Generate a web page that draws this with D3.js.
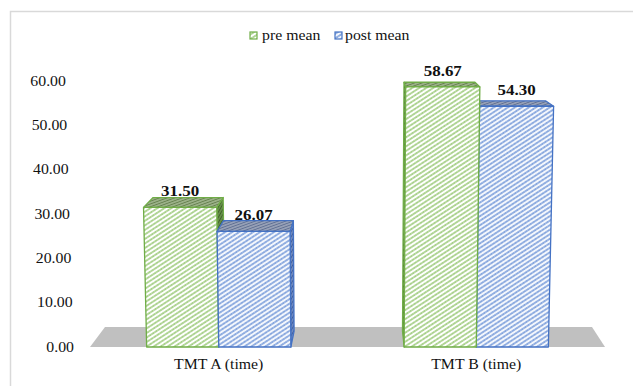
<!DOCTYPE html>
<html>
<head>
<meta charset="utf-8">
<script src="https://cdn.jsdelivr.net/npm/d3@7/dist/d3.min.js"></script>
<style>
  html, body { margin: 0; padding: 0; background: #fff; }
  svg { display: block; }
  text { font-family: "Liberation Serif", "Times New Roman", serif; fill: #111; }
</style>
</head>
<body>
<svg id="chart" width="633" height="386"></svg>
<script>
// ---- data ----
const categories = ["TMT A (time)", "TMT B (time)"];
const seriesNames = ["pre mean", "post mean"];
const preMean = [31.50, 58.67];
const postMean = [26.07, 54.30];
const yTicks = [0, 10, 20, 30, 40, 50, 60];

const seriesValues = [preMean, postMean];

// ---- geometry of the 3-D view ----
const W = 633, H = 386;
const base = 347;              // front edge of the floor
const vp = { x: 366, y: -21 }; // depth vanishing point
const keyC = 350, keyK = 0.00011; // slight vertical convergence
const floorDepth = 0.0544, barDepth = 0.043;
const textStretch = 1.13;

const svg = d3.select("#chart");

const x0 = d3.scaleBand().domain(categories).range([90, 605])
  .paddingInner(0.44).paddingOuter(0.22);
const x1 = d3.scaleBand().domain(seriesNames).range([0, x0.bandwidth()]);
const y = d3.scaleLinear().domain([0, 60]).range([base, 81]);

function proj(X, Y, z) {
  const h = base - Y;
  const xk = keyC + (X - keyC) * (1 + keyK * h);
  return [xk + (vp.x - xk) * z, Y + (vp.y - Y) * z];
}
const poly = pts => "M" + pts.map(p => p.join(",")).join("L") + "Z";

// ---- fill patterns ----
const defs = svg.append("defs");
function stripes(id, bg, fg, size, sw, angle, dotColor) {
  const p = defs.append("pattern").attr("id", id)
    .attr("patternUnits", "userSpaceOnUse")
    .attr("width", size).attr("height", size)
    .attr("patternTransform", `rotate(${angle})`);
  p.append("rect").attr("width", size).attr("height", size).attr("fill", bg);
  p.append("line").attr("x1", 0).attr("x2", size)
    .attr("y1", size / 2).attr("y2", size / 2)
    .attr("stroke", fg).attr("stroke-width", sw);
  if (dotColor) {
    p.append("line").attr("x1", 0).attr("x2", size)
      .attr("y1", size / 2).attr("y2", size / 2)
      .attr("stroke", dotColor).attr("stroke-width", sw * 0.5)
      .attr("stroke-dasharray", "1,1.4");
  }
}
stripes("preFront", "#ffffff", "#a6d185", 3.8, 1.4, -33, "#7cb356");
stripes("postFront", "#f4f7fc", "#93b0e3", 3.8, 1.6, -33, "#5a82cc");
stripes("preTop", "#a8bd96", "#65804e", 2.6, 1.2, -20);
stripes("postTop", "#a3acbf", "#5f6f92", 2.6, 1.2, -20);
stripes("preSide", "#6f9552", "#3f6427", 2.6, 1.2, -60);
stripes("postSide", "#7d95c6", "#3d5c9e", 2.6, 1.2, -60);

const style = {
  "pre mean":  { front: "url(#preFront)",  top: "url(#preTop)",  side: "url(#preSide)",  stroke: "#70ad47" },
  "post mean": { front: "url(#postFront)", top: "url(#postTop)", side: "url(#postSide)", stroke: "#4472c4" }
};

// ---- frame ----
svg.append("path")
  .attr("d", `M10.5,${H + 5}V11.5H${W + 5}`)
  .attr("fill", "none").attr("stroke", "#d9d9d9").attr("stroke-width", 1.5);

// ---- floor ----
const [fx0, fx1] = x0.range();
svg.append("path")
  .attr("d", poly([proj(fx0, base, 0), proj(fx0, base, floorDepth),
                   proj(fx1, base, floorDepth), proj(fx1, base, 0)]))
  .attr("fill", "#c0c0c0");

// ---- y axis labels ----
function stretchedText(g, x, yy, str, anchor) {
  return g.append("g")
    .attr("transform", `translate(${x},${yy}) scale(${textStretch},1)`)
    .append("text").attr("text-anchor", anchor).text(str);
}
const axisG = svg.append("g").attr("font-size", 14);
yTicks.forEach(t => {
  const [lx, ly] = proj(74, y(t), 0);
  stretchedText(axisG, lx, ly + 4.8, d3.format(".2f")(t), "end");
});

// ---- bars ----
const bars = [];
categories.forEach((c, i) => {
  seriesNames.forEach((s, j) => {
    const v = seriesValues[j][i];
    const xa = x0(c) + x1(s), xb = xa + x1.bandwidth();
    bars.push({ c, s, v, xa, xb, mid: (xa + xb) / 2 });
  });
});
// farthest from the vanishing point first
bars.sort((a, b) => Math.abs(b.mid - vp.x) - Math.abs(a.mid - vp.x));

const barG = svg.append("g");
bars.forEach(b => {
  const st = style[b.s];
  const yt = y(b.v);
  const g = barG.append("g")
    .attr("stroke", st.stroke).attr("stroke-width", 1.3).attr("stroke-linejoin", "round");
  const fTL = proj(b.xa, yt, 0), fTR = proj(b.xb, yt, 0);
  const fBL = proj(b.xa, base, 0), fBR = proj(b.xb, base, 0);
  const bTL = proj(b.xa, yt, barDepth), bTR = proj(b.xb, yt, barDepth);
  const bBL = proj(b.xa, base, barDepth), bBR = proj(b.xb, base, barDepth);
  if (bTR[0] > fTR[0]) g.append("path").attr("d", poly([fTR, bTR, bBR, fBR])).attr("fill", st.side);
  if (bTL[0] < fTL[0]) g.append("path").attr("d", poly([fTL, bTL, bBL, fBL])).attr("fill", st.side);
  g.append("path").attr("d", poly([fTL, bTL, bTR, fTR])).attr("fill", st.top);
  g.append("path").attr("d", poly([fTL, fTR, fBR, fBL])).attr("fill", st.front);
});

// ---- value labels ----
const valG = svg.append("g").attr("font-size", 15).attr("font-weight", "bold");
bars.forEach(b => {
  const yt = y(b.v);
  const [lx] = proj(b.mid, yt, 0);
  stretchedText(valG, lx, yt - 11, d3.format(".2f")(b.v), "middle");
});

// ---- category labels ----
const catG = svg.append("g").attr("font-size", 14);
categories.forEach(c => {
  stretchedText(catG, x0(c) + x0.bandwidth() / 2, 369, c, "middle");
});

// ---- legend ----
const legend = svg.append("g").attr("font-size", 14);
const legendItems = [
  { s: "pre mean", sx: 250, tx: 262 },
  { s: "post mean", sx: 335, tx: 345 }
];
legendItems.forEach(it => {
  const st = style[it.s];
  legend.append("rect").attr("x", it.sx).attr("y", 32).attr("width", 7).attr("height", 7)
    .attr("fill", st.front).attr("stroke", st.stroke).attr("stroke-width", 1.2);
  stretchedText(legend, it.tx, 40, it.s, "start");
});
</script>
</body>
</html>
